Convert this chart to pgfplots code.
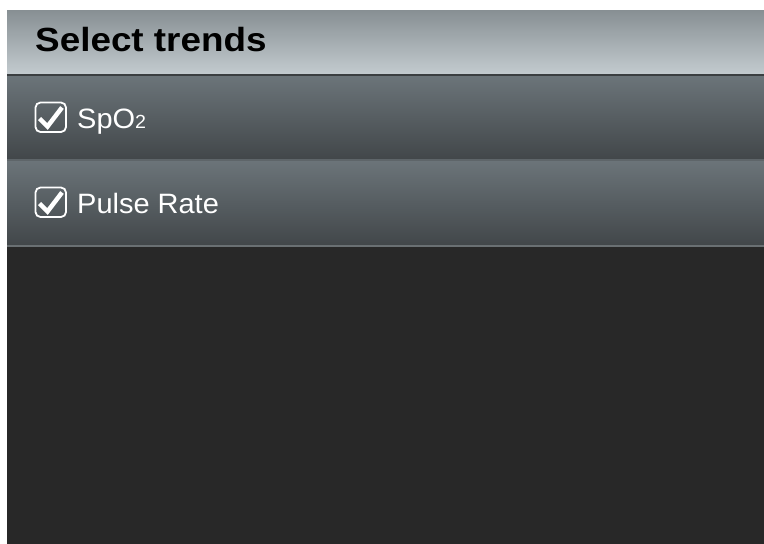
\documentclass[border=0pt]{standalone}
\usepackage{pgfplots}
\pgfplotsset{compat=1.18}
\usepackage{fontspec}
\setmainfont{Liberation Sans}
\definecolor{hdrtop}{HTML}{878F93}
\definecolor{hdrbot}{HTML}{C3CBCF}
\definecolor{rowtop}{HTML}{6B7479}
\definecolor{rowbot}{HTML}{42474A}
\definecolor{darkbg}{HTML}{282828}
\definecolor{sepdark}{HTML}{3B3F41}
\definecolor{seplight}{HTML}{5E6569}
\definecolor{seplight2}{HTML}{6A7073}
\begin{document}
\begin{tikzpicture}
\begin{axis}[
  width=764pt, height=544pt, scale only axis,
  xmin=0, xmax=764, ymin=0, ymax=544, y dir=reverse,
  hide axis, clip=false,
]
% white background
\addplot[draw=none, fill=white] coordinates {(0,0) (764,0) (764,544) (0,544)} -- cycle;
% header
\addplot[draw=none, top color=hdrtop, bottom color=hdrbot, middle color=hdrtop!50!hdrbot] coordinates {(7,10) (764,10) (764,74) (7,74)} -- cycle;
\addplot[draw=none, fill=sepdark] coordinates {(7,74) (764,74) (764,76.5) (7,76.5)} -- cycle;
% row 1
\addplot[draw=none, top color=rowtop, bottom color=rowbot] coordinates {(7,76.5) (764,76.5) (764,158.5) (7,158.5)} -- cycle;
\addplot[draw=none, fill=seplight] coordinates {(7,158.5) (764,158.5) (764,161) (7,161)} -- cycle;
% row 2
\addplot[draw=none, top color=rowtop, bottom color=rowbot] coordinates {(7,161) (764,161) (764,244.5) (7,244.5)} -- cycle;
\addplot[draw=none, fill=seplight2] coordinates {(7,244.5) (764,244.5) (764,247) (7,247)} -- cycle;
% dark area
\addplot[draw=none, fill=darkbg] coordinates {(7,247) (764,247) (764,544) (7,544)} -- cycle;

% header text
\node[anchor=base west, inner sep=0pt, text=black] at (axis cs:35,51)
  {\scalebox{1.1}[1]{\fontsize{33.5}{33.5}\selectfont\bfseries Select trends}};

% checkboxes
\draw[white, line width=1.8pt, rounded corners=5pt] (axis cs:35.5,102.5) rectangle (axis cs:66,132);
\draw[white, line width=4.5pt, line cap=butt, line join=miter] (axis cs:39.5,118.5) -- (axis cs:47.5,126.5) -- (axis cs:62,107.5);
\draw[white, line width=1.8pt, rounded corners=5pt] (axis cs:35.5,187.5) rectangle (axis cs:66,217);
\draw[white, line width=4.5pt, line cap=butt, line join=miter] (axis cs:39.5,203.5) -- (axis cs:47.5,211.5) -- (axis cs:62,192.5);

% row labels
\node[anchor=base west, inner sep=0pt, text=white] at (axis cs:77,128)
  {\scalebox{1.035}[1]{\fontsize{28}{28}\selectfont SpO{\fontsize{19}{19}\selectfont 2}}};
\node[anchor=base west, inner sep=0pt, text=white] at (axis cs:77,213)
  {\scalebox{1.035}[1]{\fontsize{28}{28}\selectfont Pulse Rate}};
\end{axis}
\end{tikzpicture}
\end{document}
